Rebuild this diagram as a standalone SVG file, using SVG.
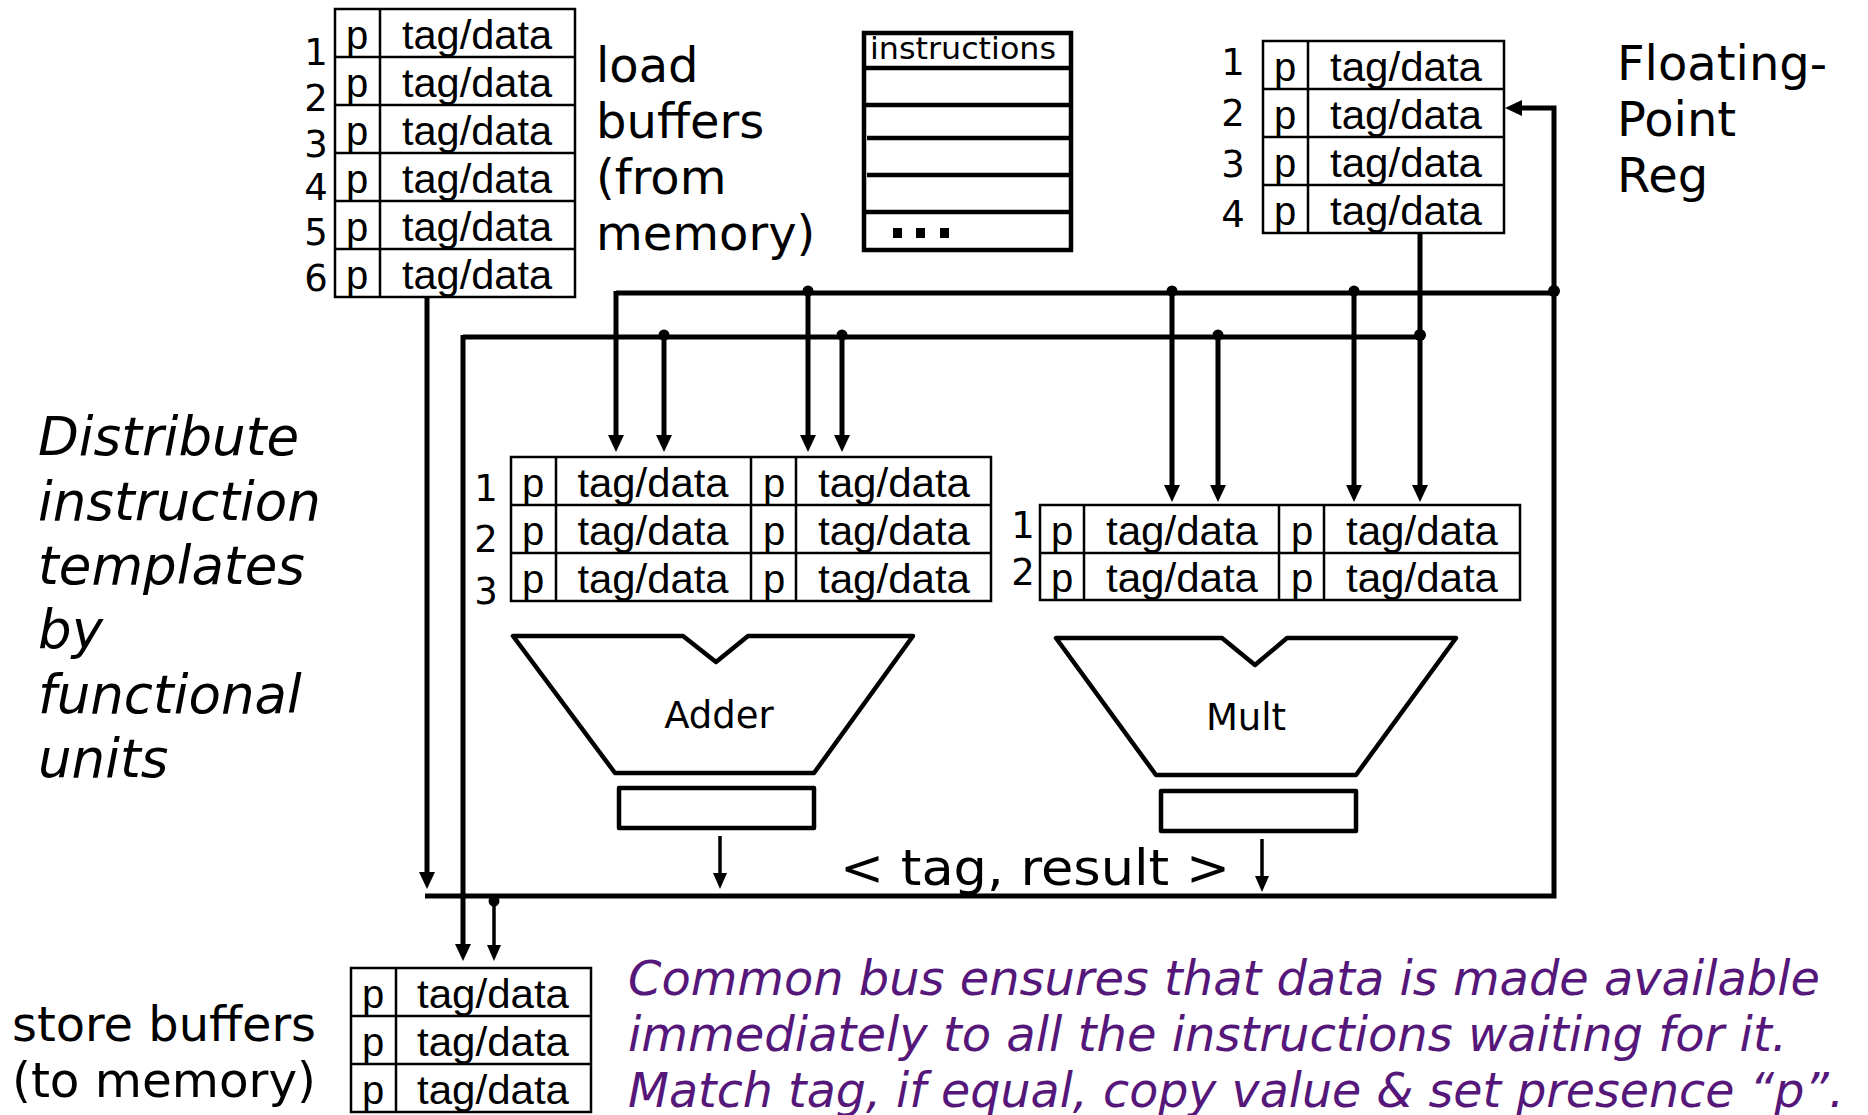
<svg xmlns="http://www.w3.org/2000/svg" width="1868" height="1115" viewBox="0 0 1868 1115">
  <style>
    .grid { fill: none; stroke: #000; stroke-width: 2.5; }
    .cell { font-family: "Liberation Sans", Arial, sans-serif; font-size: 40px; fill: #000; text-anchor: middle; }
    .num { font-family: "DejaVu Sans", Verdana, sans-serif; font-size: 37px; fill: #000; text-anchor: middle; }
    .label { font-family: "DejaVu Sans", Verdana, sans-serif; font-size: 48px; fill: #000; }
    .italic { font-family: "DejaVu Sans", Verdana, sans-serif; font-style: italic; font-size: 53px; fill: #000; }
    .note { font-family: "DejaVu Sans", Verdana, sans-serif; font-style: italic; font-size: 48px; fill: #55177a; }
    .unit { font-family: "DejaVu Sans", Verdana, sans-serif; font-size: 37px; fill: #000; text-anchor: middle; }
    .shape { fill: none; stroke: #000; stroke-width: 4.5; stroke-linejoin: round; }
    .bus { fill: none; stroke: #000; stroke-width: 5; }
    .thin { fill: none; stroke: #000; stroke-width: 3.5; }
    .dot { fill: #000; }
  </style>
  <defs>
    <marker id="ah" markerUnits="userSpaceOnUse" markerWidth="20" markerHeight="20" refX="1" refY="8" orient="auto">
      <path d="M0,0 L17,8 L0,16 z" fill="#000"/>
    </marker>
    <marker id="ahs" markerUnits="userSpaceOnUse" markerWidth="20" markerHeight="20" refX="1" refY="7" orient="auto">
      <path d="M0,0 L16,7 L0,14 z" fill="#000"/>
    </marker>
  </defs>

  <!-- load buffers -->
  <g id="load-buffers">
    <rect class="grid" x="335" y="9" width="240" height="288"/>
    <path class="grid" d="M380,9 V297 M335,57 H575 M335,105 H575 M335,153 H575 M335,201 H575 M335,249 H575"/>
    <g class="cell">
      <text x="357" y="49">p</text><text x="477" y="49" textLength="150" lengthAdjust="spacingAndGlyphs">tag/data</text>
      <text x="357" y="97">p</text><text x="477" y="97" textLength="150" lengthAdjust="spacingAndGlyphs">tag/data</text>
      <text x="357" y="145">p</text><text x="477" y="145" textLength="150" lengthAdjust="spacingAndGlyphs">tag/data</text>
      <text x="357" y="193">p</text><text x="477" y="193" textLength="150" lengthAdjust="spacingAndGlyphs">tag/data</text>
      <text x="357" y="241">p</text><text x="477" y="241" textLength="150" lengthAdjust="spacingAndGlyphs">tag/data</text>
      <text x="357" y="289">p</text><text x="477" y="289" textLength="150" lengthAdjust="spacingAndGlyphs">tag/data</text>
    </g>
    <g class="num">
      <text x="316" y="65">1</text>
      <text x="316" y="111">2</text>
      <text x="316" y="157">3</text>
      <text x="316" y="200">4</text>
      <text x="316" y="245">5</text>
      <text x="316" y="291">6</text>
    </g>
    <g class="label">
      <text x="596" y="82">load</text>
      <text x="596" y="138">buffers</text>
      <text x="596" y="194">(from</text>
      <text x="596" y="250">memory)</text>
    </g>
  </g>

  <!-- instruction queue -->
  <g id="instructions">
    <rect x="864" y="33" width="207" height="217" fill="none" stroke="#000" stroke-width="4.5"/>
    <path d="M865,68 H1070 M865,105 H1070 M867,138 H1070 M867,175 H1070 M865,212 H1070" stroke="#000" stroke-width="4.5"/>
    <text x="870" y="59" font-family="'DejaVu Sans', Verdana, sans-serif" font-size="31px" textLength="186" lengthAdjust="spacingAndGlyphs">instructions</text>
    <rect x="893" y="228" width="9" height="10"/>
    <rect x="916" y="228" width="9" height="10"/>
    <rect x="940" y="228" width="9" height="10"/>
  </g>

  <!-- floating-point registers -->
  <g id="fp-regs">
    <rect class="grid" x="1263" y="41" width="241" height="192"/>
    <path class="grid" d="M1308,41 V233 M1263,89 H1504 M1263,137 H1504 M1263,185 H1504"/>
    <g class="cell">
      <text x="1285" y="81">p</text><text x="1406" y="81" textLength="152" lengthAdjust="spacingAndGlyphs">tag/data</text>
      <text x="1285" y="129">p</text><text x="1406" y="129" textLength="152" lengthAdjust="spacingAndGlyphs">tag/data</text>
      <text x="1285" y="177">p</text><text x="1406" y="177" textLength="152" lengthAdjust="spacingAndGlyphs">tag/data</text>
      <text x="1285" y="225">p</text><text x="1406" y="225" textLength="152" lengthAdjust="spacingAndGlyphs">tag/data</text>
    </g>
    <g class="num">
      <text x="1233" y="75">1</text>
      <text x="1233" y="126">2</text>
      <text x="1233" y="177">3</text>
      <text x="1233" y="227">4</text>
    </g>
    <g class="label">
      <text x="1617" y="80">Floating-</text>
      <text x="1617" y="136">Point</text>
      <text x="1617" y="192">Reg</text>
    </g>
  </g>

  <!-- adder reservation stations -->
  <g id="adder-rs">
    <rect class="grid" x="511" y="457" width="480" height="144"/>
    <path class="grid" d="M556,457 V601 M751,457 V601 M796,457 V601 M511,505 H991 M511,553 H991"/>
    <g class="cell">
      <text x="533" y="497">p</text><text x="653" y="497" textLength="151" lengthAdjust="spacingAndGlyphs">tag/data</text>
      <text x="774" y="497">p</text><text x="894" y="497" textLength="152" lengthAdjust="spacingAndGlyphs">tag/data</text>
      <text x="533" y="545">p</text><text x="653" y="545" textLength="151" lengthAdjust="spacingAndGlyphs">tag/data</text>
      <text x="774" y="545">p</text><text x="894" y="545" textLength="152" lengthAdjust="spacingAndGlyphs">tag/data</text>
      <text x="533" y="593">p</text><text x="653" y="593" textLength="151" lengthAdjust="spacingAndGlyphs">tag/data</text>
      <text x="774" y="593">p</text><text x="894" y="593" textLength="152" lengthAdjust="spacingAndGlyphs">tag/data</text>
    </g>
    <g class="num">
      <text x="486" y="501">1</text>
      <text x="486" y="552">2</text>
      <text x="486" y="604">3</text>
    </g>
  </g>

  <!-- multiplier reservation stations -->
  <g id="mult-rs">
    <rect class="grid" x="1040" y="505" width="480" height="95"/>
    <path class="grid" d="M1084,505 V600 M1279,505 V600 M1324,505 V600 M1040,553 H1520"/>
    <g class="cell">
      <text x="1062" y="545">p</text><text x="1182" y="545" textLength="152" lengthAdjust="spacingAndGlyphs">tag/data</text>
      <text x="1302" y="545">p</text><text x="1422" y="545" textLength="152" lengthAdjust="spacingAndGlyphs">tag/data</text>
      <text x="1062" y="592">p</text><text x="1182" y="592" textLength="152" lengthAdjust="spacingAndGlyphs">tag/data</text>
      <text x="1302" y="592">p</text><text x="1422" y="592" textLength="152" lengthAdjust="spacingAndGlyphs">tag/data</text>
    </g>
    <g class="num">
      <text x="1023" y="538">1</text>
      <text x="1023" y="585">2</text>
    </g>
  </g>

  <!-- adder unit and its result register -->
  <g id="adder">
    <path class="shape" d="M513,636 H683 L716,662 L748,636 H913 L814,773 H615 Z"/>
    <text class="unit" x="719" y="728">Adder</text>
    <rect class="shape" x="619" y="788" width="195" height="40"/>
  </g>

  <!-- multiplier unit and its result register -->
  <g id="mult">
    <path class="shape" d="M1056,638 H1222 L1255,665 L1287,638 H1456 L1356,775 H1156 Z"/>
    <text class="unit" x="1246" y="730">Mult</text>
    <rect class="shape" x="1161" y="791" width="195" height="40"/>
  </g>

  <!-- store buffers -->
  <g id="store-buffers">
    <rect class="grid" x="351" y="968" width="240" height="144"/>
    <path class="grid" d="M396,968 V1112 M351,1016 H591 M351,1064 H591"/>
    <g class="cell">
      <text x="373" y="1008">p</text><text x="493" y="1008" textLength="152" lengthAdjust="spacingAndGlyphs">tag/data</text>
      <text x="373" y="1056">p</text><text x="493" y="1056" textLength="152" lengthAdjust="spacingAndGlyphs">tag/data</text>
      <text x="373" y="1104">p</text><text x="493" y="1104" textLength="152" lengthAdjust="spacingAndGlyphs">tag/data</text>
    </g>
    <g class="label">
      <text x="12" y="1041" textLength="304" lengthAdjust="spacingAndGlyphs">store buffers</text>
      <text x="12" y="1097" textLength="304" lengthAdjust="spacingAndGlyphs">(to memory)</text>
    </g>
  </g>

  <!-- connectors: operand buses, result bus and taps -->
  <g id="connectors">
    <!-- load buffer output onto the result bus -->
    <path class="bus" d="M427,297 V873" marker-end="url(#ah)"/>
    <!-- operand bus A -->
    <path class="bus" d="M616,293 H1554 M616,291 V436" marker-end="url(#ah)"/>
    <path class="bus" d="M808,293 V436" marker-end="url(#ah)"/>
    <path class="bus" d="M1172,293 V486" marker-end="url(#ah)"/>
    <path class="bus" d="M1354,293 V486" marker-end="url(#ah)"/>
    <!-- operand bus B -->
    <path class="bus" d="M463,337 H1420 M463,335 V945" marker-end="url(#ah)"/>
    <path class="bus" d="M664,337 V436" marker-end="url(#ah)"/>
    <path class="bus" d="M842,337 V436" marker-end="url(#ah)"/>
    <path class="bus" d="M1218,337 V486" marker-end="url(#ah)"/>
    <!-- register file output -->
    <path class="bus" d="M1420,233 V486" marker-end="url(#ah)"/>
    <!-- common data bus, looping back to the register file -->
    <path class="bus" d="M425,896 H1554 V108 H1521" marker-end="url(#ah)"/>
    <!-- functional unit results -->
    <path class="thin" d="M720,836 V874" marker-end="url(#ahs)"/>
    <path class="thin" d="M1262,839 V877" marker-end="url(#ahs)"/>
    <!-- store buffer tap -->
    <path class="thin" d="M494,898 V946" marker-end="url(#ahs)"/>
    <circle class="dot" cx="808" cy="291" r="5.5"/>
    <circle class="dot" cx="1172" cy="291" r="5.5"/>
    <circle class="dot" cx="1354" cy="291" r="5.5"/>
    <circle class="dot" cx="1554" cy="291" r="6"/>
    <circle class="dot" cx="664" cy="335" r="5.5"/>
    <circle class="dot" cx="842" cy="335" r="5.5"/>
    <circle class="dot" cx="1218" cy="335" r="5.5"/>
    <circle class="dot" cx="1420" cy="335" r="6"/>
    <circle class="dot" cx="494" cy="901" r="5.5"/>
  </g>

  <!-- bus label -->
  <text x="840" y="885" font-family="'DejaVu Sans', Verdana, sans-serif" font-size="49px" textLength="390" lengthAdjust="spacingAndGlyphs">&lt; tag, result &gt;</text>

  <!-- side note -->
  <g class="italic">
    <text x="38" y="455">Distribute</text>
    <text x="38" y="520">instruction</text>
    <text x="38" y="584">templates</text>
    <text x="38" y="648">by</text>
    <text x="38" y="713">functional</text>
    <text x="38" y="777">units</text>
  </g>

  <!-- bus explanation -->
  <g class="note">
    <text x="628" y="995" textLength="1192" lengthAdjust="spacingAndGlyphs">Common bus ensures that data is made available</text>
    <text x="628" y="1051" textLength="1159" lengthAdjust="spacingAndGlyphs">immediately to all the instructions waiting for it.</text>
    <text x="628" y="1107" textLength="1216" lengthAdjust="spacingAndGlyphs">Match tag, if equal, copy value &amp; set presence “p”.</text>
  </g>
</svg>
